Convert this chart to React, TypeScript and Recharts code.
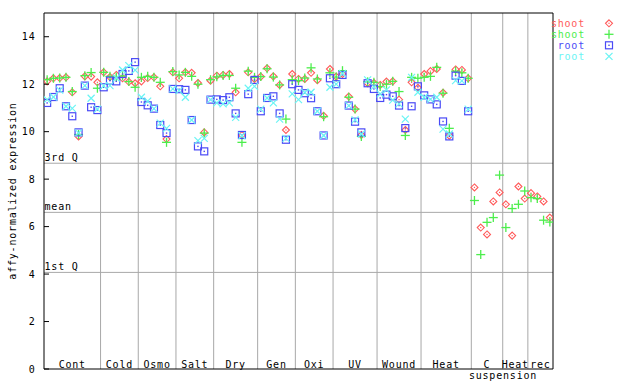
import React from 'react';
import { ScatterChart, Scatter, XAxis, YAxis, ReferenceLine, Legend } from 'recharts';

// ---- data ----
const groupNames = ['Cont', 'Cold', 'Osmo', 'Salt', 'Dry', 'Gen', 'Oxi', 'UV', 'Wound', 'Heat', 'C\nsuspension', 'Heat', 'rec'];
const groupSizes = [9, 6, 6, 6, 7, 6, 6, 7, 7, 8, 5, 4, 4];

const shootRed = [
  12.12, 12.25, 12.26, 12.29, 11.66, 9.8, 12.33, 12.32, 12.08,
  12.5, 12.3, 12.39, 12.25, 12.1, 12.04,
  12.12, 12.26, 12.29, 11.91, 9.69, 12.5,
  12.25, 12.5, 12.48, 12.05, 9.97, 12.15,
  12.36, 12.39, 12.43, 11.66, 9.86, 12.5, 12.22,
  12.32, 12.67, 12.33, 11.97, 10.07, 12.43,
  12.22, 12.22, 12.48, 12.17, 10.67, 12.64,
  12.32, 12.43, 11.48, 10.95, 9.86, 12.04, 12.05,
  11.97, 12.11, 12.12, 11.35, 10.07, 12.08, 11.85,
  12.43, 12.55, 12.64, 11.64, 9.83, 12.62, 12.6, 12.25,
  7.65, 5.96, 5.67, 7.06, 7.44,
  6.94, 5.62, 7.69, 7.18,
  7.41, 7.27, 7.06, 6.38,
];
const shootGreen = [
  12.19, 12.25, 12.26, 12.29, 11.69, 9.88, 12.36, 12.49, 11.83,
  12.5, 12.33, 12.3, 12.35, 12.11, 11.87,
  12.29, 12.33, 12.29, 12.08, 9.55, 12.53,
  12.39, 12.5, 12.33, 12.0, 9.94, 12.19,
  12.31, 12.37, 12.37, 11.83, 9.55, 12.55, 12.29,
  12.32, 12.65, 12.3, 11.97, 10.53, 12.19,
  12.15, 12.26, 12.69, 12.22, 10.63, 12.48,
  12.3, 12.57, 11.45, 10.95, 9.8, 12.1, 12.08,
  11.9, 12.0, 12.12, 11.69, 9.84, 12.29, 12.25,
  12.29, 12.33, 12.71, 11.62, 10.14, 12.55, 12.48, 12.25,
  7.1, 4.82, 6.18, 6.38, 8.17,
  5.96, 6.76, 6.94, 7.5,
  7.22, 7.18, 6.27, 6.19,
];
const rootBlue = [
  11.21, 11.46, 11.83, 11.07, 10.65, 9.97, 11.94, 11.03, 10.91,
  11.87, 12.15, 12.12, 12.43, 12.56, 12.93,
  11.25, 11.11, 10.97, 10.28, 9.94, 11.8,
  11.79, 11.76, 10.49, 9.38, 9.17, 11.35,
  11.36, 11.33, 11.45, 10.77, 9.86, 11.58, 12.18,
  10.86, 11.42, 11.49, 10.77, 9.66, 12.0,
  11.76, 11.62, 11.41, 10.86, 9.84, 12.25,
  12.0, 12.39, 11.1, 10.42, 9.97, 12.04, 11.8,
  11.42, 11.56, 11.49, 11.1, 10.15, 11.07, 11.91,
  11.53, 11.36, 11.15, 10.43, 9.8, 12.36, 12.14, 10.86,
];
const rootCyan = [
  11.35, 11.46, 11.75, 11.07, 10.98, 9.95, 11.94, 11.41, 10.95,
  11.93, 11.94, 12.26, 12.6, 12.78, 12.59,
  11.45, 11.29, 10.97, 10.36, 10.14, 11.8,
  11.73, 11.45, 10.49, 9.62, 9.72, 11.35,
  11.21, 11.17, 11.21, 10.6, 9.83, 11.83, 11.91,
  10.95, 11.42, 11.21, 10.53, 9.72, 11.59,
  11.35, 11.65, 11.66, 10.86, 9.84, 11.87,
  12.0, 12.45, 11.1, 10.5, 9.9, 12.18, 11.9,
  11.59, 11.76, 11.33, 11.17, 10.53, 12.29, 11.66,
  11.45, 11.36, 11.45, 10.11, 9.9, 12.15, 12.14, 10.95,
];

const quartileLabels = ['3rd Q', 'mean', '1st Q'];
const quartileValues = [8.67, 6.6, 4.07];
const yTicks = [0, 2, 4, 6, 8, 10, 12, 14];

const seriesNames = ['shoot', 'shoot', 'root', 'root'];
const seriesColors = ['#ff5a5a', '#4cee4c', '#4a4af6', '#6af4f4'];
const seriesKinds = ['diamond', 'plus', 'square', 'cross'];

// ---- derived ----
const totalSlots = groupSizes.reduce((a, b) => a + b, 0);
const boundaries: number[] = [];
const centers: number[] = [];
{
  let acc = 0;
  groupSizes.forEach((s, i) => {
    centers.push(acc + s / 2);
    acc += s;
    if (i < groupSizes.length - 1) boundaries.push(acc);
  });
}
const toPoints = (arr: number[]) => arr.map((v, i) => ({ x: i + 0.5, y: v }));
const seriesData = [shootRed, shootGreen, rootBlue, rootCyan].map(toPoints);

const FONT = '"DejaVu Sans Mono", monospace';
const textStyle = { fontFamily: FONT, fontSize: 10, letterSpacing: 0.8 };

const Marker = ({ kind, cx, cy, color }: any) => {
  if (cx == null || cy == null) return null;
  const r = 3.5;
  if (kind === 'diamond') {
    return (
      <g>
        <polygon points={`${cx},${cy - r} ${cx + r},${cy} ${cx},${cy + r} ${cx - r},${cy}`} fill="none" stroke={color} strokeWidth={1.1} />
        <rect x={cx - 0.6} y={cy - 0.6} width={1.2} height={1.2} fill={color} />
      </g>
    );
  }
  if (kind === 'plus') {
    return (
      <g stroke={color} strokeWidth={1.3}>
        <line x1={cx - 4.5} x2={cx + 4.5} y1={cy} y2={cy} />
        <line x1={cx} x2={cx} y1={cy - 4.5} y2={cy + 4.5} />
      </g>
    );
  }
  if (kind === 'square') {
    return (
      <g>
        <rect x={cx - r} y={cy - r} width={2 * r} height={2 * r} fill="none" stroke={color} strokeWidth={1.2} />
        <rect x={cx - 0.7} y={cy - 0.7} width={1.4} height={1.4} fill={color} />
      </g>
    );
  }
  return (
    <g stroke={color} strokeWidth={1.2}>
      <line x1={cx - r} x2={cx + r} y1={cy - r} y2={cy + r} />
      <line x1={cx - r} x2={cx + r} y1={cy + r} y2={cy - r} />
    </g>
  );
};

const XTick = (props: any) => {
  const { x, y, payload } = props;
  let idx = 0;
  let best = Infinity;
  centers.forEach((c, i) => {
    const d = Math.abs(c - payload.value);
    if (d < best) { best = d; idx = i; }
  });
  const lines = groupNames[idx].split('\n');
  return (
    <g>
      <text x={x} y={y - 1.5} textAnchor="middle" fill="#000" style={textStyle}>{lines[0]}</text>
      {lines[1] ? (
        <text x={x + 16} y={y + 10} textAnchor="middle" fill="#000" style={textStyle}>{lines[1]}</text>
      ) : null}
    </g>
  );
};

const YTickLeft = (props: any) => {
  const { x, y, payload } = props;
  return (
    <g>
      <line x1={x} x2={x + 5} y1={y} y2={y} stroke="#000" />
      <text x={x - 8.5} y={y + 3.5} textAnchor="end" fill="#000" style={textStyle}>{payload.value}</text>
    </g>
  );
};

const YTickRight = (props: any) => {
  const { x, y } = props;
  return <line x1={x - 6} x2={x} y1={y} y2={y} stroke="#000" />;
};

const LegendBox = () => (
  <svg width={92} height={50} style={{ display: 'block', overflow: 'visible' }}>
    {seriesNames.map((n, i) => (
      <g key={i}>
        <text x={37} y={7.3 + i * 11 + 3.5} textAnchor="end" fill={seriesColors[i]} style={textStyle}>{n}</text>
        <Marker kind={seriesKinds[i]} cx={61} cy={7.3 + i * 11} color={seriesColors[i]} />
      </g>
    ))}
  </svg>
);

const QLabel = (text: string) => (p: any) => {
  const vb = p.viewBox || {};
  return (
    <text x={(vb.x ?? 0) + 0.5} y={(vb.y ?? 0) - 2} fill="#000" style={textStyle}>{text}</text>
  );
};

export default function App() {
  return (
    <div style={{ position: 'absolute', left: 0, top: 0, width: 640, height: 384, background: '#fff' }}>
      <ScatterChart width={640} height={384} margin={{ top: 12, right: 86, bottom: 0, left: 0 }}>
        <XAxis
          xAxisId="b"
          type="number"
          dataKey="x"
          domain={[0, totalSlots]}
          ticks={centers}
          interval={0}
          height={15}
          tickSize={0}
          tickMargin={0}
          tickLine={false}
          axisLine={{ stroke: '#000' }}
          tick={<XTick />}
          allowDataOverflow
        />
        <XAxis
          xAxisId="t"
          orientation="top"
          type="number"
          domain={[0, totalSlots]}
          height={1}
          tick={false}
          tickLine={false}
          axisLine={{ stroke: '#000' }}
        />
        <YAxis
          yAxisId="l"
          type="number"
          dataKey="y"
          domain={[0, 15]}
          ticks={yTicks}
          interval={0}
          width={44}
          tickSize={0}
          tickMargin={0}
          tickLine={false}
          axisLine={{ stroke: '#000' }}
          tick={<YTickLeft />}
          label={{
            value: 'affy-normalized expression',
            angle: -90,
            position: 'insideLeft',
            offset: 12,
            style: { ...textStyle, textAnchor: 'middle', fill: '#000' },
          }}
        />
        <YAxis
          yAxisId="r"
          orientation="right"
          type="number"
          domain={[0, 15]}
          ticks={yTicks}
          interval={0}
          width={1}
          tickSize={0}
          tickMargin={0}
          tickLine={false}
          axisLine={{ stroke: '#000' }}
          tick={<YTickRight />}
        />
        {boundaries.map((b) => (
          <ReferenceLine key={'v' + b} xAxisId="b" yAxisId="l" x={b} stroke="#a8a8a8" strokeWidth={1} />
        ))}
        {quartileValues.map((q, i) => (
          <ReferenceLine key={'h' + i} xAxisId="b" yAxisId="l" y={q} stroke="#a8a8a8" strokeWidth={1} label={QLabel(quartileLabels[i])} />
        ))}
        {seriesData.map((d, i) => (
          <Scatter
            key={i}
            name={seriesNames[i]}
            data={d}
            xAxisId="b"
            yAxisId="l"
            fill={seriesColors[i]}
            isAnimationActive={false}
            shape={(p: any) => <Marker kind={seriesKinds[i]} cx={p.cx} cy={p.cy} color={seriesColors[i]} />}
          />
        ))}
        <Legend
          layout="vertical"
          align="center"
          verticalAlign="middle"
          wrapperStyle={{ top: 16, left: 548, width: 92, height: 50 }}
          content={() => <LegendBox />}
        />
      </ScatterChart>
    </div>
  );
}
